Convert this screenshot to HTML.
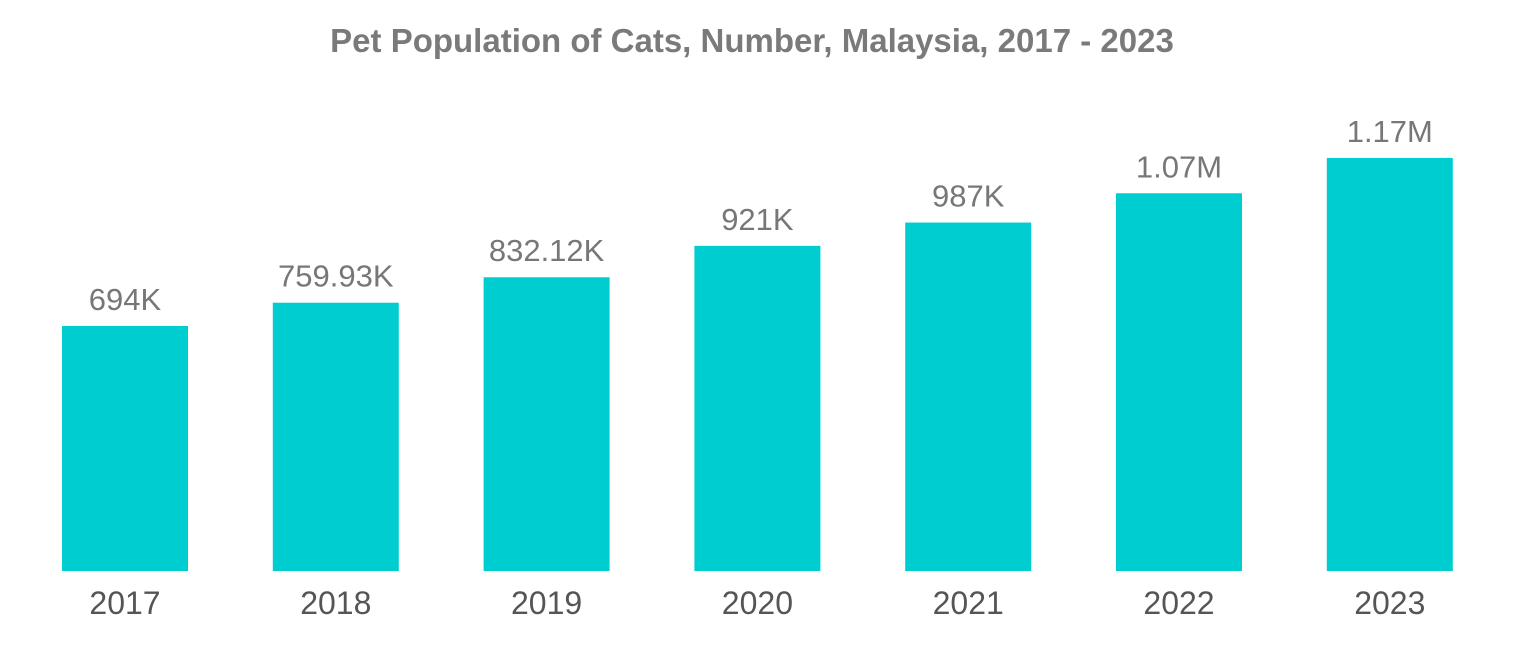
<!DOCTYPE html>
<html><head><meta charset="utf-8"><style>
body{margin:0;background:#fff;}
svg{display:block;font-family:"Liberation Sans",sans-serif;}
</style></head><body>
<svg id="chart" width="1525" height="646">
<text x="752" y="52" text-anchor="middle" font-size="33" font-weight="bold" fill="#7a7a7a">Pet Population of Cats, Number, Malaysia, 2017 - 2023</text>
<g id="bars"></g>
</svg>
<script>
const categories=["2017","2018","2019","2020","2021","2022","2023"];
const values=[694,759.93,832.12,921,987,1070,1170];
const valueLabels=["694K","759.93K","832.12K","921K","987K","1.07M","1.17M"];
const baseY=571, pxPerUnit=245/694, x0=62, step=210.8, bw=126;
const g=document.getElementById('bars');
const ns="http://www.w3.org/2000/svg";
function yScale(v){return baseY-v*pxPerUnit;}
function xScale(i){return x0+i*step;}
categories.forEach((c,i)=>{
  const x=xScale(i), y=yScale(values[i]);
  const r=document.createElementNS(ns,'rect');
  r.setAttribute('x',x);r.setAttribute('y',y);r.setAttribute('width',bw);r.setAttribute('height',baseY-y);r.setAttribute('fill','#00cdd0');
  
  
  g.appendChild(r);
  const t=document.createElementNS(ns,'text');
  t.setAttribute('x',x+bw/2);t.setAttribute('y',y-16);t.setAttribute('text-anchor','middle');t.setAttribute('font-size','31');t.setAttribute('fill','#777');
  t.textContent=valueLabels[i];
  
  
  g.appendChild(t);
  const l=document.createElementNS(ns,'text');
  l.setAttribute('x',x+bw/2);l.setAttribute('y',614);l.setAttribute('text-anchor','middle');l.setAttribute('font-size','32');l.setAttribute('fill','#555');
  l.textContent=c;
  
  
  g.appendChild(l);
});
</script>
</body></html>
